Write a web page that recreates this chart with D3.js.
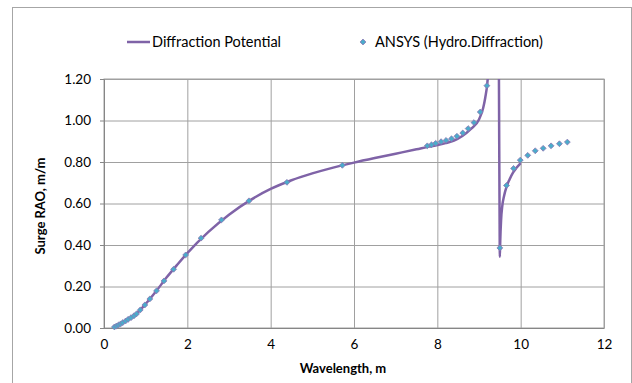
<!DOCTYPE html>
<html>
<head>
<meta charset="utf-8">
<script src="https://cdn.jsdelivr.net/npm/d3@7"></script>
<style>
  body { margin: 0; background: #fff; }
  text { font-family: Lato, "Open Sans", sans-serif; fill: #000; }
</style>
</head>
<body>
<div id="chart"></div>
<script>
// ANSYS markers (wavelength, RAO)
var ansysX = [0.25, 0.30, 0.35, 0.40, 0.45, 0.52, 0.58, 0.65, 0.72, 0.78, 0.87, 0.98, 1.10, 1.26, 1.44, 1.67, 1.96, 2.33, 2.82, 3.48, 4.39, 5.72,
              7.76, 7.86, 7.96, 8.09, 8.21, 8.34, 8.47, 8.61, 8.74, 8.88, 9.03, 9.19,
              9.50, 9.66, 9.83, 9.99, 10.17, 10.35, 10.54, 10.73, 10.93, 11.12];
var ansysY = [0.005, 0.010, 0.015, 0.020, 0.026, 0.034, 0.042, 0.050, 0.059, 0.068, 0.087, 0.111, 0.140, 0.179, 0.227, 0.283, 0.352, 0.433, 0.521, 0.613, 0.702, 0.784,
              0.878, 0.883, 0.890, 0.898, 0.904, 0.912, 0.924, 0.940, 0.961, 0.990, 1.041, 1.168,
              0.386, 0.687, 0.769, 0.809, 0.832, 0.854, 0.866, 0.878, 0.888, 0.896];

// Diffraction potential curve
var lineX = [0.25, 0.5, 0.75, 1.0, 1.25, 1.5, 1.75, 2.0, 2.5, 3.0, 3.5, 4.0, 4.5, 5.0, 5.5, 6.0, 6.5, 7.0, 7.5, 7.8, 8.0, 8.2, 8.4, 8.6, 8.8, 9.0, 9.1, 9.15, 9.2, 9.25, 9.3, 9.38,
             9.44, 9.47, 9.485, 9.495, 9.50, 9.51, 9.53, 9.56, 9.6, 9.66, 9.73, 9.82, 9.9, 10.0];
var lineY = [0.005, 0.031, 0.064, 0.116, 0.177, 0.243, 0.303, 0.361, 0.462, 0.546, 0.615, 0.670, 0.712, 0.745, 0.773, 0.797, 0.819, 0.840, 0.861, 0.874, 0.882, 0.891, 0.903, 0.925, 0.958, 1.005, 1.060, 1.110, 1.180, 1.330, 1.700, 3.0,
             3.0, 1.6, 0.9, 0.5, 0.343, 0.42, 0.52, 0.59, 0.635, 0.680, 0.715, 0.750, 0.772, 0.795];

var xTicks = [0, 2, 4, 6, 8, 10, 12];
var yTicks = [0, 0.2, 0.4, 0.6, 0.8, 1.0, 1.2];

var seriesNames = ["Diffraction Potential", "ANSYS (Hydro.Diffraction)"];

var W = 632, H = 383;
var margin = {top: 79, right: 28, bottom: 55, left: 104};
var width = W - margin.left - margin.right;
var height = H - margin.top - margin.bottom;

var svg = d3.select("#chart").append("svg")
    .attr("width", W).attr("height", H);

// outer chart frame
svg.append("rect")
    .attr("x", 12.5).attr("y", 7.5)
    .attr("width", 619).attr("height", 390)
    .attr("fill", "none").attr("stroke", "#a6a6a6");

var g = svg.append("g").attr("transform", "translate(" + margin.left + "," + margin.top + ")");

var x = d3.scaleLinear().domain([0, 12]).range([0, width]);
var y = d3.scaleLinear().domain([0, 1.2]).range([height, 0]);

// gridlines
g.append("g")
    .attr("transform", "translate(0," + height + ")")
    .call(d3.axisBottom(x).tickValues(xTicks).tickSize(-height).tickFormat(""))
    .call(function(s) { s.select(".domain").remove(); })
    .selectAll("line").attr("stroke", "#a0a0a0");
g.append("g")
    .call(d3.axisLeft(y).tickValues(yTicks).tickSize(-width).tickFormat(""))
    .call(function(s) { s.select(".domain").remove(); })
    .selectAll("line").attr("stroke", "#a0a0a0");

// plot border
g.append("rect").attr("x", 0).attr("y", 0).attr("width", width).attr("height", height)
    .attr("fill", "none").attr("stroke", "#a0a0a0");

// axes
var xAxis = g.append("g")
    .attr("transform", "translate(0," + height + ")")
    .call(d3.axisBottom(x).tickValues(xTicks).tickSize(0).tickPadding(11).tickFormat(d3.format("d")));
var yAxis = g.append("g")
    .call(d3.axisLeft(y).tickValues(yTicks).tickSize(4).tickPadding(9).tickFormat(d3.format(".2f")));
[xAxis, yAxis].forEach(function(a) {
    a.select(".domain").attr("stroke", "#868686");
    a.selectAll("line").attr("stroke", "#868686");
    a.selectAll("text").style("font-size", "13.5px").style("font-family", "Lato, sans-serif");
});

// clip for the curve
svg.append("clipPath").attr("id", "plotclip")
    .append("rect").attr("x", 0).attr("y", 0).attr("width", width).attr("height", height);

var lineData = lineX.map(function(d, i) { return [d, lineY[i]]; });
var line = d3.line()
    .x(function(d) { return x(d[0]); })
    .y(function(d) { return y(d[1]); })
    .curve(d3.curveMonotoneX);

g.append("g").attr("clip-path", "url(#plotclip)")
    .append("path")
    .datum(lineData)
    .attr("d", line)
    .attr("fill", "none")
    .attr("stroke", "#7f63a7")
    .attr("stroke-width", 2.5)
    .attr("stroke-linejoin", "round");

var diamond = d3.symbol(d3.symbolSquare, 17);
g.append("g").selectAll("path")
    .data(ansysX.map(function(d, i) { return [d, ansysY[i]]; }))
    .enter().append("path")
    .attr("d", diamond)
    .attr("transform", function(d) { return "translate(" + x(d[0]) + "," + y(d[1]) + ") rotate(45)"; })
    .attr("fill", "#4aaccb")
    .attr("stroke", "#8a78b4")
    .attr("stroke-width", 0.8);

// axis titles
svg.append("text")
    .attr("x", 343).attr("y", 373)
    .attr("text-anchor", "middle")
    .style("font-size", "13px").style("font-weight", "bold")
    .text("Wavelength, m");
svg.append("text")
    .attr("transform", "translate(45,206) rotate(-90)")
    .attr("text-anchor", "middle")
    .style("font-size", "13px").style("font-weight", "bold")
    .text("Surge RAO, m/m");

// legend
var leg = svg.append("g");
leg.append("line").attr("x1", 127).attr("x2", 150).attr("y1", 42).attr("y2", 42)
    .attr("stroke", "#7f63a7").attr("stroke-width", 2.5);
leg.append("text").attr("x", 152).attr("y", 47).style("font-size", "14.5px").text(seriesNames[0]);
leg.append("path").attr("d", diamond)
    .attr("transform", "translate(363,42) rotate(45)")
    .attr("fill", "#4aaccb").attr("stroke", "#8a78b4").attr("stroke-width", 0.8);
leg.append("text").attr("x", 375).attr("y", 47).style("font-size", "14.5px").text(seriesNames[1]);
</script>
</body>
</html>
